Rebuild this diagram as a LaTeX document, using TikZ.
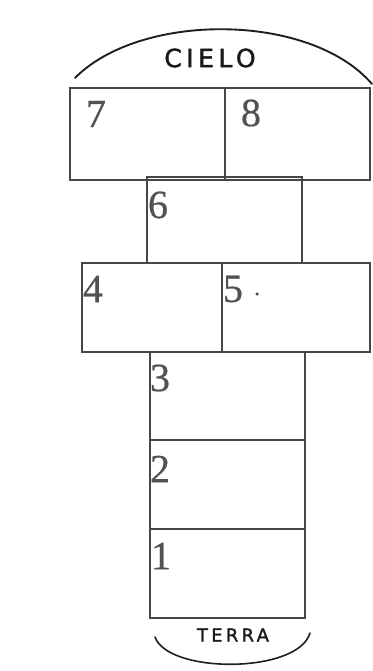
\documentclass[tikz,border=0pt]{standalone}
\usepackage{fontspec}
\setmainfont{Liberation Serif}
\newfontfamily\numfont[FakeBold=0.6]{Liberation Serif}
\newfontfamily\handfont[LetterSpace=18,FakeBold=1.5]{DejaVu Sans}
\begin{document}
\begin{tikzpicture}[x=1pt,y=-1pt,
  box/.style={draw=black!72, line width=1.3pt, anchor=north west, inner sep=0pt, outer sep=0pt},
  num/.style={text=black!68, font=\numfont\fontsize{40}{40}\selectfont, inner sep=0pt},
  hand/.style={text=black!90, inner sep=0pt},
  arcline/.style={draw=black!88, line width=1.9pt, line cap=round}]
\useasboundingbox[fill=white] (0,0) rectangle (372,671);
% boxes
\node[box, minimum width=155pt, minimum height=92pt] (b7) at (70,88) {};
\node[box, minimum width=145pt, minimum height=92pt] (b8) at (225,88) {};
\node[box, minimum width=155pt, minimum height=86pt] (b6) at (147,177) {};
\node[box, minimum width=140pt, minimum height=89pt] (b4) at (82,263) {};
\node[box, minimum width=148pt, minimum height=89pt] (b5) at (222,263) {};
\node[box, minimum width=155pt, minimum height=88pt] (b3) at (150,352) {};
\node[box, minimum width=155pt, minimum height=89pt] (b2) at (150,440) {};
\node[box, minimum width=155pt, minimum height=89pt] (b1) at (150,529) {};
% numbers
\node[num] (n7) at (96,114) {7};
\node[num] (n8) at (251,113) {8};
\node[num] (n6) at (158,205) {6};
\node[num] (n4) at (93,289) {4};
\node[num] (n5) at (233,289) {5};
\node[fill=black!70, circle, inner sep=0pt, minimum size=3.5pt] (dot) at (257,294) {};
\node[num] (n3) at (160,378) {3};
\node[num] (n2) at (160,469) {2};
\node[num] (n1) at (161,556) {1};
% sky and earth
\coordinate (skyL) at (75,78);
\coordinate (skyR) at (372,84);
\draw[arcline] (skyL) .. controls (140,12) and (310,12) .. (skyR);
\node[hand, font=\handfont\fontsize{25}{25}\selectfont] (cielo) at (210,58) {CIELO};
\coordinate (earthL) at (155,637);
\coordinate (earthR) at (310,633);
\draw[arcline, line width=1.6pt] (earthL) .. controls (168,674) and (298,674) .. (earthR);
\node[hand, font=\handfont\fontsize{18}{18}\selectfont] (terra) at (233,635) {TERRA};
\end{tikzpicture}
\end{document}
